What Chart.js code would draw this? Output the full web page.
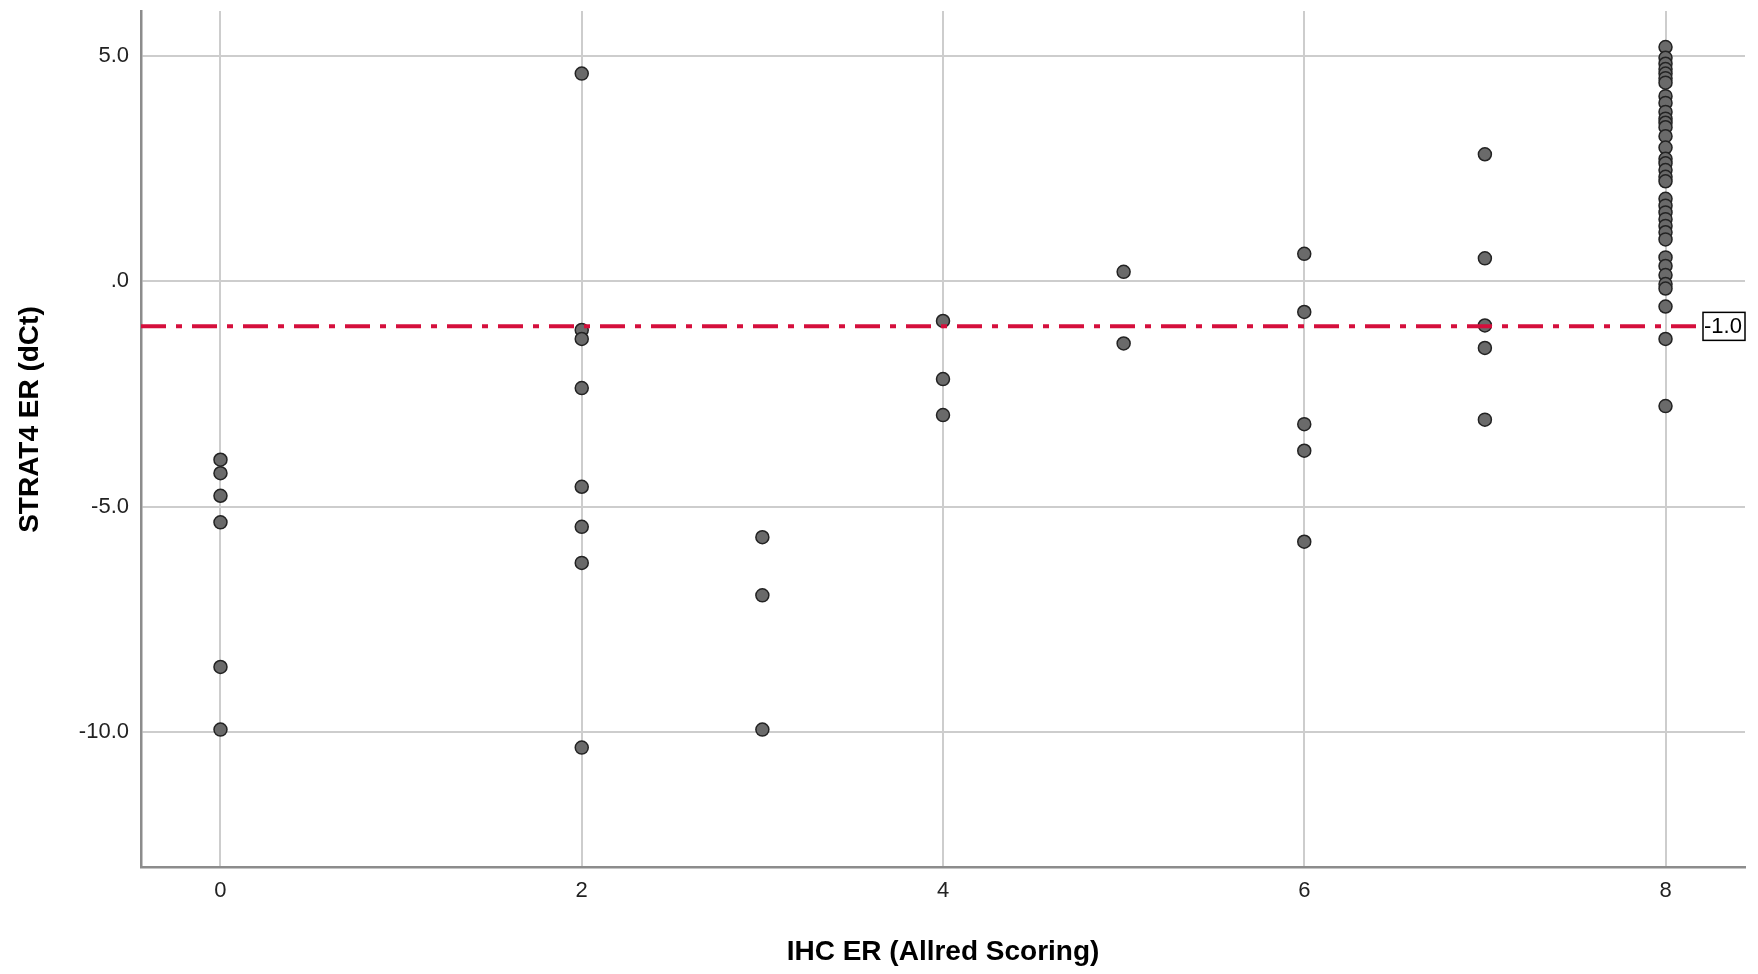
<!DOCTYPE html>
<html>
<head>
<meta charset="utf-8">
<title>STRAT4 ER vs IHC ER</title>
<script src="https://cdn.jsdelivr.net/npm/chart.js@4.4.1/dist/chart.umd.min.js"></script>
<style>
    html, body { margin: 0; padding: 0; background: #ffffff; }
    #wrap { width: 1758px; height: 974px; }
</style>
</head>
<body>
<div id="wrap"><canvas id="scatterChart" width="1758" height="974"></canvas></div>
<script>
// Punteggi IHC (Allred) presenti nel grafico
const allredScores = [0, 2, 3, 4, 5, 6, 7, 8];

// Valori STRAT4 ER (dCt) letti per ogni punteggio
const dctScore0 = [-3.96, -4.26, -4.76, -5.35, -8.56, -9.95];
const dctScore2 = [4.61, -1.08, -1.28, -2.37, -4.56, -5.45, -6.25, -10.35];
const dctScore3 = [-5.68, -6.97, -9.95];
const dctScore4 = [-0.88, -2.17, -2.97];
const dctScore5 = [0.21, -1.38];
const dctScore6 = [0.61, -0.68, -3.17, -3.76, -5.78];
const dctScore7 = [2.82, 0.51, -0.98, -1.48, -3.07];
const dctScore8 = [5.20, 4.96, 4.83, 4.71, 4.61, 4.51, 4.41, 4.11, 3.96, 3.76,
                   3.61, 3.52, 3.42, 3.22, 2.97, 2.72, 2.62, 2.47, 2.32, 2.22,
                   1.83, 1.68, 1.53, 1.38, 1.23, 1.09, 0.93, 0.53, 0.34, 0.14,
                   -0.06, -0.16, -0.56, -1.28, -2.77];

// Tick e linea di riferimento
const xTickValues = [0, 2, 4, 6, 8];
const yTickValues = [5, 0, -5, -10];
const yTickLabels = ['5.0', '.0', '-5.0', '-10.0'];
const cutoffValue = -1.0;
const cutoffLabel = '-1.0';

const groups = [dctScore0, dctScore2, dctScore3, dctScore4, dctScore5, dctScore6, dctScore7, dctScore8];

const points = [];
allredScores.forEach((score, i) => {
    groups[i].forEach(v => points.push({ x: score, y: v }));
});

const FONT = '"Liberation Sans", Arial, sans-serif';

// Linea di cutoff tratto-punto con etichetta incorniciata
const cutoffLine = {
    id: 'cutoffLine',
    afterDatasetsDraw(chart) {
        const { ctx, chartArea, scales } = chart;
        const y = scales.y.getPixelForValue(cutoffValue);
        const boxW = 42, boxH = 28;
        const boxX = chartArea.right - boxW;

        ctx.save();
        ctx.strokeStyle = '#d50f3c';
        ctx.lineWidth = 4;
        ctx.setLineDash([25, 10, 6, 10]);
        ctx.beginPath();
        ctx.moveTo(chartArea.left, y);
        ctx.lineTo(boxX, y);
        ctx.stroke();
        ctx.restore();

        ctx.save();
        ctx.fillStyle = '#ffffff';
        ctx.fillRect(boxX, y - boxH / 2, boxW, boxH);
        ctx.beginPath();
        ctx.rect(boxX, y - boxH / 2, boxW, boxH);
        ctx.clip();
        ctx.fillStyle = '#000000';
        ctx.font = '22px ' + FONT;
        ctx.textBaseline = 'middle';
        ctx.textAlign = 'left';
        ctx.fillText(cutoffLabel, boxX + 1, y + 1);
        ctx.restore();

        ctx.save();
        ctx.strokeStyle = '#000000';
        ctx.lineWidth = 1.5;
        ctx.strokeRect(boxX, y - boxH / 2, boxW, boxH);
        ctx.restore();
    }
};

const ctx = document.getElementById('scatterChart').getContext('2d');

new Chart(ctx, {
    type: 'scatter',
    data: {
        datasets: [{
            label: 'STRAT4 ER',
            data: points,
            pointRadius: 6.5,
            pointHoverRadius: 6.5,
            backgroundColor: '#6a6a6a',
            borderColor: '#232323',
            borderWidth: 1.5
        }]
    },
    options: {
        responsive: false,
        animation: false,
        layout: { padding: { top: 11, right: 13, left: 0, bottom: 0 } },
        plugins: {
            legend: { display: false },
            tooltip: { enabled: false }
        },
        scales: {
            x: {
                type: 'linear',
                min: -0.44,
                max: 8.44,
                afterBuildTicks: scale => { scale.ticks = xTickValues.map(v => ({ value: v })); },
                afterFit: scale => {
                    scale.height = 107;
                    scale.paddingLeft = 0;
                    scale.paddingRight = 0;
                },
                grid: { color: '#cdcdcd', lineWidth: 2, drawTicks: false },
                border: { color: '#8c8c8c', width: 2.5 },
                ticks: {
                    padding: 11,
                    color: '#222222',
                    font: { family: FONT, size: 22 }
                },
                title: {
                    display: true,
                    text: 'IHC ER (Allred Scoring)',
                    color: '#000000',
                    padding: { top: 0, bottom: 5 },
                    font: { family: FONT, size: 28, weight: 'bold' }
                }
            },
            y: {
                type: 'linear',
                min: -13,
                max: 6,
                afterBuildTicks: scale => { scale.ticks = yTickValues.map(v => ({ value: v })); },
                afterFit: scale => {
                    scale.width = 141;
                    scale.paddingTop = 0;
                    scale.paddingBottom = 0;
                },
                grid: { color: '#cdcdcd', lineWidth: 2, drawTicks: false },
                border: { color: '#8c8c8c', width: 2.5 },
                ticks: {
                    padding: 12,
                    color: '#222222',
                    font: { family: FONT, size: 22 },
                    callback: value => {
                        const i = yTickValues.indexOf(value);
                        return i >= 0 ? yTickLabels[i] : '';
                    }
                },
                title: {
                    display: true,
                    // spazi iniziali: il titolo nell'originale sta un po' sopra il centro
                    text: '     STRAT4 ER (dCt)',
                    color: '#000000',
                    padding: { top: 13, bottom: 0 },
                    font: { family: FONT, size: 28, weight: 'bold' }
                }
            }
        }
    },
    plugins: [cutoffLine]
});
</script>
</body>
</html>
